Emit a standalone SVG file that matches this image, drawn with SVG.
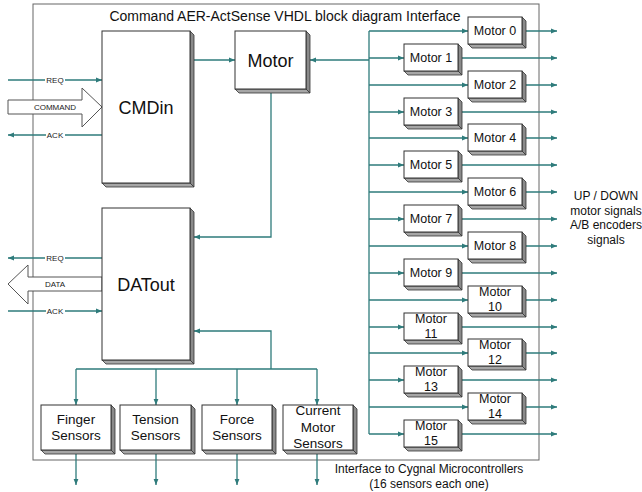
<svg xmlns="http://www.w3.org/2000/svg" xmlns:xlink="http://www.w3.org/1999/xlink" width="642" height="492" viewBox="0 0 642 492">
<style>
.conn{stroke:#2e7b7b;stroke-width:1.3;fill:none}
.arr{marker-end:url(#ah)}
.box{fill:#fff;stroke:#333;stroke-width:1}
.sr{fill:#8a8a8a;stroke:#333;stroke-width:0.8}
.sb{fill:#a6a6a6;stroke:#333;stroke-width:0.8}
.t{font-family:"Liberation Sans",Arial,sans-serif;fill:#111;text-anchor:middle}
.big{font-size:18px}
.mt{font-size:12.5px}
.st{font-size:13.5px}
.lbl{font-family:"Liberation Sans",Arial,sans-serif;font-size:8px;fill:#222;text-anchor:middle}
.hol{fill:#fff;stroke:#555;stroke-width:1}
</style>
<defs>
<marker id="ah" viewBox="0 0 6 6" refX="6" refY="3" markerWidth="6" markerHeight="6" orient="auto" markerUnits="userSpaceOnUse"><path d="M0,0.6 L6,3 L0,5.4 z" fill="#2e7b7b"/></marker>
<g id="mbox">
<polygon class="sr" points="54,0 58,4 58,31 54,27"/>
<polygon class="sb" points="0,27 54,27 58,31 4,31"/>
<rect class="box" x="0" y="0" width="54" height="27"/>
</g>
</defs>
<rect width="642" height="492" fill="#fff"/>
<rect id="frame" x="33" y="4" width="506" height="456" fill="none" stroke="#666" stroke-width="1"/>
<text class="t" x="285" y="20.5" font-size="14">Command AER-ActSense VHDL block diagram Interface</text>

<g id="connectors">
<!-- CMDin signals -->
<line class="conn arr" x1="8" y1="80" x2="102" y2="80"/>
<line class="conn arr" x1="102" y1="135" x2="8" y2="135"/>
<polygon class="hol" points="8,100 82,100 82,88 102,107 82,127 82,114 8,114"/>
<!-- DATout signals -->
<line class="conn arr" x1="102" y1="258" x2="8" y2="258"/>
<line class="conn arr" x1="8" y1="311" x2="102" y2="311"/>
<polygon class="hol" points="8,284 28,265 28,277 102,277 102,291 28,291 28,304"/>
<!-- CMDin to Motor -->
<line class="conn arr" x1="194" y1="60" x2="235" y2="60"/>
<!-- Motor to DATout -->
<polyline class="conn arr" points="271,93 271,237 194,237"/>
<!-- bus to Motor -->
<line class="conn arr" x1="369" y1="60" x2="310" y2="60"/>
<line class="conn" x1="369" y1="31" x2="369" y2="434"/>
<!-- sensors bus -->
<polyline class="conn arr" points="271,369 271,331 194,331"/>
<line class="conn" x1="76" y1="369" x2="317" y2="369"/>
<line class="conn arr" x1="76" y1="369" x2="76" y2="405"/>
<line class="conn arr" x1="156" y1="369" x2="156" y2="405"/>
<line class="conn arr" x1="237" y1="369" x2="237" y2="405"/>
<line class="conn arr" x1="317" y1="369" x2="317" y2="405"/>
<line class="conn arr" x1="76" y1="454" x2="76" y2="485"/>
<line class="conn arr" x1="156" y1="454" x2="156" y2="485"/>
<line class="conn arr" x1="237" y1="454" x2="237" y2="485"/>
<line class="conn arr" x1="317" y1="454" x2="317" y2="485"/>
<!-- motor inputs -->
<line class="conn arr" x1="369" y1="31" x2="468" y2="31"/>
<line class="conn arr" x1="369" y1="58" x2="404" y2="58"/>
<line class="conn arr" x1="369" y1="85" x2="468" y2="85"/>
<line class="conn arr" x1="369" y1="112" x2="404" y2="112"/>
<line class="conn arr" x1="369" y1="138" x2="468" y2="138"/>
<line class="conn arr" x1="369" y1="165" x2="404" y2="165"/>
<line class="conn arr" x1="369" y1="192" x2="468" y2="192"/>
<line class="conn arr" x1="369" y1="219" x2="404" y2="219"/>
<line class="conn arr" x1="369" y1="246" x2="468" y2="246"/>
<line class="conn arr" x1="369" y1="273" x2="404" y2="273"/>
<line class="conn arr" x1="369" y1="300" x2="468" y2="300"/>
<line class="conn arr" x1="369" y1="327" x2="404" y2="327"/>
<line class="conn arr" x1="369" y1="353" x2="468" y2="353"/>
<line class="conn arr" x1="369" y1="380" x2="404" y2="380"/>
<line class="conn arr" x1="369" y1="407" x2="468" y2="407"/>
<line class="conn arr" x1="369" y1="434" x2="404" y2="434"/>
<!-- motor outputs -->
<line class="conn arr" x1="522" y1="31" x2="557" y2="31"/>
<line class="conn arr" x1="458" y1="58" x2="557" y2="58"/>
<line class="conn arr" x1="522" y1="85" x2="557" y2="85"/>
<line class="conn arr" x1="458" y1="112" x2="557" y2="112"/>
<line class="conn arr" x1="522" y1="138" x2="557" y2="138"/>
<line class="conn arr" x1="458" y1="165" x2="557" y2="165"/>
<line class="conn arr" x1="522" y1="192" x2="557" y2="192"/>
<line class="conn arr" x1="458" y1="219" x2="557" y2="219"/>
<line class="conn arr" x1="522" y1="246" x2="557" y2="246"/>
<line class="conn arr" x1="458" y1="273" x2="557" y2="273"/>
<line class="conn arr" x1="522" y1="300" x2="557" y2="300"/>
<line class="conn arr" x1="458" y1="327" x2="557" y2="327"/>
<line class="conn arr" x1="522" y1="353" x2="557" y2="353"/>
<line class="conn arr" x1="458" y1="380" x2="557" y2="380"/>
<line class="conn arr" x1="522" y1="407" x2="557" y2="407"/>
<line class="conn arr" x1="458" y1="434" x2="557" y2="434"/>
<!-- labels -->
<rect x="45" y="75" width="20" height="10" fill="#fff"/>
<text class="lbl" x="55" y="83">REQ</text>
<rect x="46" y="130" width="19" height="10" fill="#fff"/>
<text class="lbl" x="55" y="138">ACK</text>
<text class="lbl" x="55" y="110">COMMAND</text>
<rect x="45" y="253" width="20" height="10" fill="#fff"/>
<text class="lbl" x="55" y="261">REQ</text>
<rect x="46" y="306" width="19" height="10" fill="#fff"/>
<text class="lbl" x="55" y="314">ACK</text>
<text class="lbl" x="55" y="287">DATA</text>
</g>

<g id="CMDin">
<polygon class="sr" points="190,31 194,35 194,187 190,183"/>
<polygon class="sb" points="102,183 190,183 194,187 106,187"/>
<rect class="box" x="102" y="31" width="88" height="152"/>
<text class="t big" x="146" y="113.5">CMDin</text>
</g>
<g id="Motor">
<polygon class="sr" points="306,31 310,35 310,93 306,89"/>
<polygon class="sb" points="235,89 306,89 310,93 239,93"/>
<rect class="box" x="235" y="31" width="71" height="58"/>
<text class="t big" x="270.5" y="66.5">Motor</text>
</g>
<g id="DATout">
<polygon class="sr" points="190,208 194,212 194,364 190,360"/>
<polygon class="sb" points="102,360 190,360 194,364 106,364"/>
<rect class="box" x="102" y="208" width="88" height="152"/>
<text class="t big" x="146" y="290.5">DATout</text>
</g>

<g id="FingerSensors">
<polygon class="sr" points="111,405 115,409 115,454 111,450"/>
<polygon class="sb" points="41,450 111,450 115,454 45,454"/>
<rect class="box" x="41" y="405" width="70" height="45"/>
<text class="t st" x="76" y="423.5">Finger</text>
<text class="t st" x="76" y="439.5">Sensors</text>
</g>
<g id="TensionSensors">
<polygon class="sr" points="191,405 195,409 195,454 191,450"/>
<polygon class="sb" points="120,450 191,450 195,454 124,454"/>
<rect class="box" x="120" y="405" width="71" height="45"/>
<text class="t st" x="155.5" y="423.5">Tension</text>
<text class="t st" x="155.5" y="439.5">Sensors</text>
</g>
<g id="ForceSensors">
<polygon class="sr" points="272,405 276,409 276,454 272,450"/>
<polygon class="sb" points="202,450 272,450 276,454 206,454"/>
<rect class="box" x="202" y="405" width="70" height="45"/>
<text class="t st" x="237" y="423.5">Force</text>
<text class="t st" x="237" y="439.5">Sensors</text>
</g>
<g id="CurrentMotorSensors">
<polygon class="sr" points="353,405 357,409 357,454 353,450"/>
<polygon class="sb" points="283,450 353,450 357,454 287,454"/>
<rect class="box" x="283" y="405" width="70" height="45"/>
<text class="t st" x="318" y="414.5">Current</text>
<text class="t st" x="318" y="431.5">Motor</text>
<text class="t st" x="318" y="447.5">Sensors</text>
</g>

<g id="motor0" transform="translate(468,17)"><use xlink:href="#mbox"/><text class="t mt" x="27" y="18">Motor 0</text></g>
<g id="motor1" transform="translate(404,44)"><use xlink:href="#mbox"/><text class="t mt" x="27" y="18">Motor 1</text></g>
<g id="motor2" transform="translate(468,71)"><use xlink:href="#mbox"/><text class="t mt" x="27" y="18">Motor 2</text></g>
<g id="motor3" transform="translate(404,98)"><use xlink:href="#mbox"/><text class="t mt" x="27" y="18">Motor 3</text></g>
<g id="motor4" transform="translate(468,124)"><use xlink:href="#mbox"/><text class="t mt" x="27" y="18">Motor 4</text></g>
<g id="motor5" transform="translate(404,151)"><use xlink:href="#mbox"/><text class="t mt" x="27" y="18">Motor 5</text></g>
<g id="motor6" transform="translate(468,178)"><use xlink:href="#mbox"/><text class="t mt" x="27" y="18">Motor 6</text></g>
<g id="motor7" transform="translate(404,205)"><use xlink:href="#mbox"/><text class="t mt" x="27" y="18">Motor 7</text></g>
<g id="motor8" transform="translate(468,232)"><use xlink:href="#mbox"/><text class="t mt" x="27" y="18">Motor 8</text></g>
<g id="motor9" transform="translate(404,259)"><use xlink:href="#mbox"/><text class="t mt" x="27" y="18">Motor 9</text></g>
<g id="motor10" transform="translate(468,286)"><use xlink:href="#mbox"/><text class="t mt" x="27" y="10">Motor</text><text class="t mt" x="27" y="25">10</text></g>
<g id="motor11" transform="translate(404,313)"><use xlink:href="#mbox"/><text class="t mt" x="27" y="10">Motor</text><text class="t mt" x="27" y="25">11</text></g>
<g id="motor12" transform="translate(468,339)"><use xlink:href="#mbox"/><text class="t mt" x="27" y="10">Motor</text><text class="t mt" x="27" y="25">12</text></g>
<g id="motor13" transform="translate(404,366)"><use xlink:href="#mbox"/><text class="t mt" x="27" y="10">Motor</text><text class="t mt" x="27" y="25">13</text></g>
<g id="motor14" transform="translate(468,393)"><use xlink:href="#mbox"/><text class="t mt" x="27" y="10">Motor</text><text class="t mt" x="27" y="25">14</text></g>
<g id="motor15" transform="translate(404,420)"><use xlink:href="#mbox"/><text class="t mt" x="27" y="10">Motor</text><text class="t mt" x="27" y="25">15</text></g>

<g id="rightnote" class="t" font-size="12">
<text class="t" x="606" y="200" font-size="12">UP / DOWN</text>
<text class="t" x="606" y="214.5" font-size="12">motor signals</text>
<text class="t" x="606" y="229" font-size="12">A/B encoders</text>
<text class="t" x="606" y="243.5" font-size="12">signals</text>
</g>
<g id="bottomnote">
<text class="t" x="429" y="473" font-size="12">Interface to Cygnal Microcontrollers</text>
<text class="t" x="429" y="488" font-size="12">(16 sensors each one)</text>
</g>
</svg>
